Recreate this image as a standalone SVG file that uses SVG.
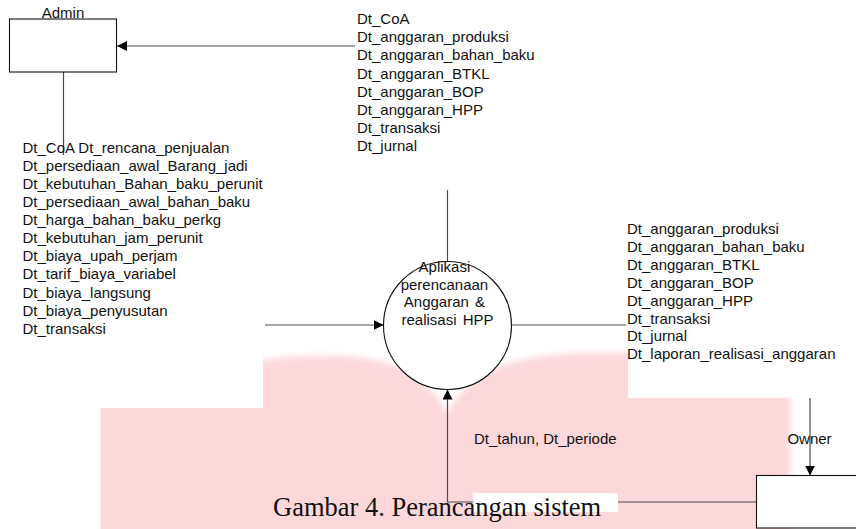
<svg xmlns="http://www.w3.org/2000/svg" width="856" height="529" viewBox="0 0 856 529">
<defs>
<style>
.lbl{font-family:"Liberation Sans",Arial,sans-serif;font-size:15px;fill:#111}
.cap{font-family:"Liberation Serif","Times New Roman",serif;font-size:26.5px;fill:#111}
.conn{fill:none;stroke:#4a4a4a;stroke-width:1.2}
.node{fill:#fff;stroke:#111;stroke-width:1.1}
</style>
<marker id="arr" markerUnits="userSpaceOnUse" markerWidth="11" markerHeight="11" refX="10" refY="5" orient="auto">
<path d="M0,0 L10,5 L0,10 Z" fill="#000"/>
</marker>
<filter id="soft" x="-5%" y="-20%" width="110%" height="140%">
<feGaussianBlur stdDeviation="3"/>
</filter>
</defs>
<rect width="856" height="529" fill="#fff"/>
<g id="watermark">
<path d="M101,535 L101,370 L263,360 C300,355 360,351 398,367 C424,379 440,397 447,414 C455,397 470,381 496,368 C532,353 580,352 628,353 L790,355 L790,535 Z" fill="#fcd8db" filter="url(#soft)"/>
<path d="M101,408 L101,535 L110,535 L110,408 Z" fill="#fcd8db"/>
<rect x="0" y="0" width="263" height="408" fill="#fff"/>
<rect x="628" y="0" width="172" height="398" fill="#fff"/>
</g>
<g id="connectors">
<line class="conn" x1="355" y1="46" x2="117" y2="46" marker-end="url(#arr)"/>
<line class="conn" x1="63.5" y1="72" x2="63.5" y2="155"/>
<line class="conn" x1="447.5" y1="190" x2="447.5" y2="261.5"/>
<line class="conn" x1="265" y1="325" x2="383.5" y2="325" marker-end="url(#arr)"/>
<line class="conn" x1="511.5" y1="325" x2="626" y2="325"/>
<polyline class="conn" points="756.5,502 447.5,502 447.5,389.5" marker-end="url(#arr)"/>
<line class="conn" x1="810" y1="398" x2="810" y2="475.5" marker-end="url(#arr)"/>
</g>
<g id="admin">
<rect class="node" x="9.5" y="19" width="107" height="53"/>
<text class="lbl" x="63" y="18" text-anchor="middle">Admin</text>
</g>
<g id="process">
<circle class="node" cx="447.5" cy="325.5" r="64"/>
<text class="lbl" text-anchor="middle" word-spacing="2">
<tspan x="447.5" y="272">Aplikasi</tspan>
<tspan x="447.5" y="289.6">perencanaan</tspan>
<tspan x="447.5" y="307.2">Anggaran &amp;</tspan>
<tspan x="447.5" y="324.8">realisasi HPP</tspan>
</text>
</g>
<g id="owner">
<rect class="node" x="756.5" y="475.5" width="110" height="52.5"/>
<text class="lbl" x="809.5" y="444" text-anchor="middle">Owner</text>
</g>
<g id="labels">
<text class="lbl">
<tspan x="357" y="24">Dt_CoA</tspan>
<tspan x="357" y="42.2">Dt_anggaran_produksi</tspan>
<tspan x="357" y="60.4">Dt_anggaran_bahan_baku</tspan>
<tspan x="357" y="78.6">Dt_anggaran_BTKL</tspan>
<tspan x="357" y="96.8">Dt_anggaran_BOP</tspan>
<tspan x="357" y="115">Dt_anggaran_HPP</tspan>
<tspan x="357" y="133.2">Dt_transaksi</tspan>
<tspan x="357" y="151.4">Dt_jurnal</tspan>
</text>
<text class="lbl">
<tspan x="22.5" y="152.7">Dt_CoA Dt_rencana_penjualan</tspan>
<tspan x="22.5" y="170.8">Dt_persediaan_awal_Barang_jadi</tspan>
<tspan x="22.5" y="188.9">Dt_kebutuhan_Bahan_baku_perunit</tspan>
<tspan x="22.5" y="207">Dt_persediaan_awal_bahan_baku</tspan>
<tspan x="22.5" y="225.1">Dt_harga_bahan_baku_perkg</tspan>
<tspan x="22.5" y="243.2">Dt_kebutuhan_jam_perunit</tspan>
<tspan x="22.5" y="261.3">Dt_biaya_upah_perjam</tspan>
<tspan x="22.5" y="279.4">Dt_tarif_biaya_variabel</tspan>
<tspan x="22.5" y="297.5">Dt_biaya_langsung</tspan>
<tspan x="22.5" y="315.6">Dt_biaya_penyusutan</tspan>
<tspan x="22.5" y="333.7">Dt_transaksi</tspan>
</text>
<text class="lbl">
<tspan x="627" y="234">Dt_anggaran_produksi</tspan>
<tspan x="627" y="251.9">Dt_anggaran_bahan_baku</tspan>
<tspan x="627" y="269.8">Dt_anggaran_BTKL</tspan>
<tspan x="627" y="287.7">Dt_anggaran_BOP</tspan>
<tspan x="627" y="305.6">Dt_anggaran_HPP</tspan>
<tspan x="627" y="323.5">Dt_transaksi</tspan>
<tspan x="627" y="341.4">Dt_jurnal</tspan>
<tspan x="627" y="359.3">Dt_laporan_realisasi_anggaran</tspan>
</text>
<text class="lbl" x="474" y="443.5">Dt_tahun, Dt_periode</text>
</g>
<g id="caption">
<rect x="473" y="493" width="145" height="19" fill="#fff"/>
<text class="cap" x="273" y="516">Gambar 4. Perancangan sistem</text>
</g>
</svg>
